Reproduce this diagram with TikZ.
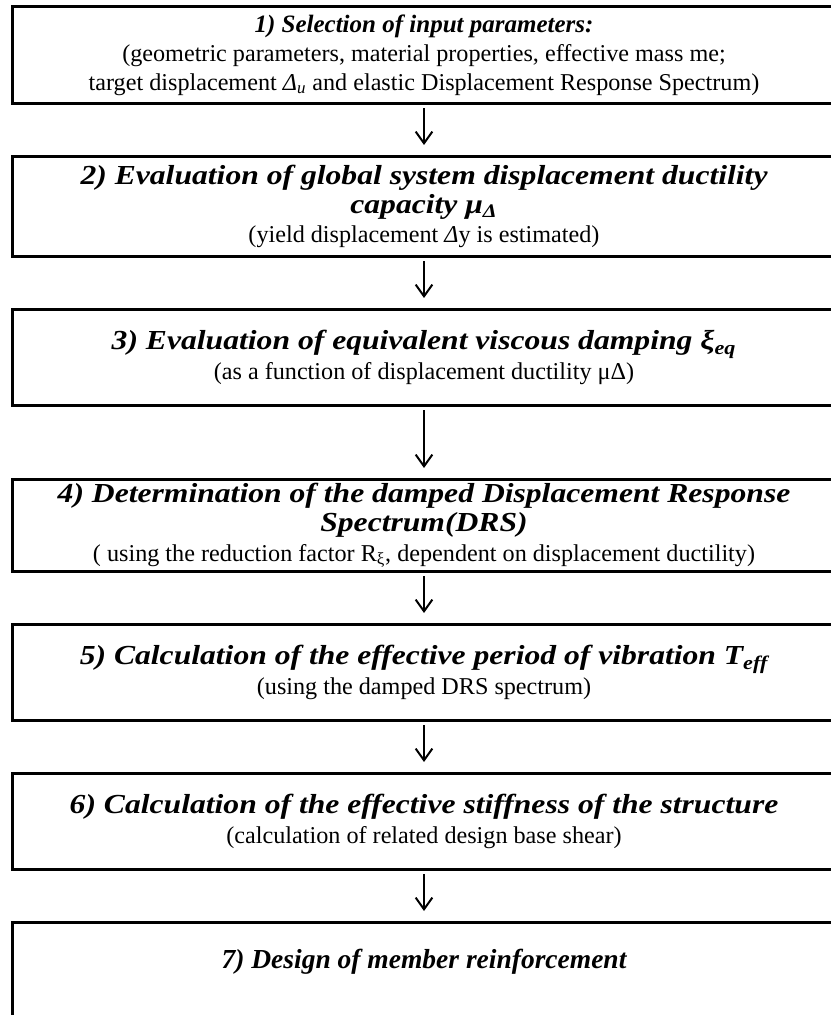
\documentclass[tikz,border=0pt]{standalone}
\usepackage{fontspec}
\setmainfont{Liberation Serif}
\newfontfamily\headfamily[FakeStretch=1.15]{Liberation Serif}
\usetikzlibrary{positioning,arrows.meta}
\newcommand\stagehead{\headfamily\fontsize{16.5pt}{19pt}\selectfont\bfseries\itshape}
\newcommand\stagetitle{\fontsize{15pt}{19pt}\selectfont\bfseries\itshape}
\newcommand\stagebody{\fontsize{14.5pt}{17.5pt}\selectfont}

\begin{document}
\begin{tikzpicture}[
    stage/.style ={
        draw=black,
        line width=1.8pt,
        minimum width=494pt,
        inner sep=0pt,
        align=center,
        font=\stagebody
    },
    flow/.style ={
        -{Straight Barb[length=7pt,width=10pt]},
        line width=1.2pt,
        shorten <=2pt,
        shorten >=6pt
    },
    node distance=30pt
    ]
    \useasboundingbox (0,0) rectangle (498pt,-609pt);

    \node[stage, minimum height=58.2pt, anchor=north] (s1) at (254.4pt,-3pt)
        {{\stagetitle 1) Selection of input parameters:}\\
         (geometric parameters, material properties, effective mass me;\\
         target displacement \textit{Δ\textsubscript{u}} and elastic Displacement Response Spectrum)};
    \node[stage, minimum height=60pt] (s2) [below=of s1]
        {{\stagehead 2) Evaluation of global system displacement ductility}\\
         {\stagehead capacity μ\textsubscript{Δ}}\\
         (yield displacement \textit{Δ}y is estimated)};
    \node[stage, minimum height=57.6pt] (s3) [below=of s2]
        {{\stagehead 3) Evaluation of equivalent viscous damping ξ\textsubscript{eq}}\\
         (as a function of displacement ductility μΔ)};
    \node[stage, minimum height=55.2pt] (s4) [below=42.6pt of s3]
        {{\stagehead 4) Determination of the damped Displacement Response}\\
         {\stagehead Spectrum(DRS)}\\
         ( using the reduction factor R\textsubscript{ξ}, dependent on displacement ductility)};
    \node[stage, minimum height=57.6pt] (s5) [below=of s4]
        {{\stagehead 5) Calculation of the effective period of vibration T\textsubscript{eff}}\\
         (using the damped DRS spectrum)};
    \node[stage, minimum height=57.6pt] (s6) [below=of s5]
        {{\stagehead 6) Calculation of the effective stiffness of the structure}\\
         (calculation of related design base shear)};
    \node[stage, minimum height=63.6pt, text depth=20pt] (s7) [below=of s6]
        {\stagetitle\fontsize{16.5pt}{19pt}\selectfont 7) Design of member reinforcement};

    \foreach \src/ \dst in {s1/s2, s2/s3, s3/s4, s4/s5, s5/s6, s6/s7}
        \draw[flow] (\src) -- (\dst);
\end{tikzpicture}
\end{document}
